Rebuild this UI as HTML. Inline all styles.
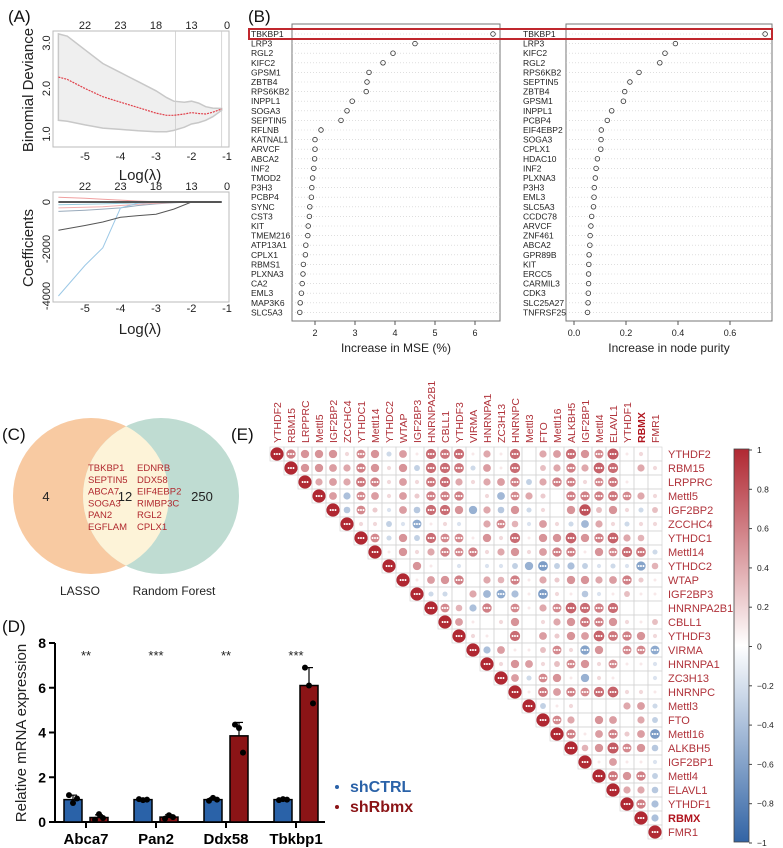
<!DOCTYPE html>
<html><head><meta charset="utf-8"><style>
html,body{margin:0;padding:0;background:#fff;}
svg{display:block;font-family:"Liberation Sans",sans-serif;}
</style></head><body>
<svg id="fig" width="783" height="848" viewBox="0 0 783 848" xmlns="http://www.w3.org/2000/svg">
<g id="pA"></g>
<g id="pB"></g>
<g id="pC"></g>
<g id="pD"></g>
<g id="pE"></g>
</svg>
<script>
// ---------- data ----------
const lassoLam = [-5.75,-5.5,-5,-4.5,-4,-3.5,-3,-2.7,-2.5,-2.2,-2,-1.8,-1.6,-1.4,-1.15];
const devMean = [2.25,2.2,2.0,1.82,1.7,1.58,1.46,1.41,1.41,1.44,1.47,1.45,1.44,1.48,1.55];
const devUpper = [3.2,3.15,2.85,2.55,2.35,2.15,1.95,1.8,1.72,1.7,1.72,1.68,1.6,1.57,1.56];
const devLower = [1.3,1.28,1.2,1.13,1.1,1.07,1.05,1.05,1.08,1.15,1.22,1.25,1.3,1.38,1.52];
const topCounts = ["22","23","18","13","0"];
const lamTicks = [-5,-4,-3,-2,-1];
const coefLam = [-5.75,-5,-4.5,-4,-3.5,-3,-2.5,-2,-1.5,-1.15];
const coefDark = [-1200,-1000,-850,-650,-580,-520,-300,0,0,0];
const coefBlue = [-4000,-2700,-1950,-250,-50,0,0,0,0,0];
const coefS1 = [-400,-350,-300,-250,-150,-80,-30,0,0,0];
const coefS2 = [-250,-220,-200,-150,-100,-50,-20,0,0,0];
const coefS3 = [200,160,120,80,40,10,0,0,0,0];
const coefS4 = [-120,-100,-80,-60,-40,-20,-5,0,0,0];

const mseGenes = ["TBKBP1","LRP3","RGL2","KIFC2","GPSM1","ZBTB4","RPS6KB2","INPPL1","SOGA3","SEPTIN5","RFLNB","KATNAL1","ARVCF","ABCA2","INF2","TMOD2","P3H3","PCBP4","SYNC","CST3","KIT","TMEM216","ATP13A1","CPLX1","RBMS1","PLXNA3","CA2","EML3","MAP3K6","SLC5A3"];
const mseVals = [6.45,4.5,3.95,3.7,3.35,3.3,3.28,2.93,2.8,2.65,2.15,2.0,2.0,1.99,1.97,1.94,1.92,1.91,1.87,1.86,1.83,1.82,1.77,1.76,1.71,1.70,1.68,1.66,1.63,1.62];
const npGenes = ["TBKBP1","LRP3","KIFC2","RGL2","RPS6KB2","SEPTIN5","ZBTB4","GPSM1","INPPL1","PCBP4","EIF4EBP2","SOGA3","CPLX1","HDAC10","INF2","PLXNA3","P3H3","EML3","SLC5A3","CCDC78","ARVCF","ZNF461","ABCA2","GPR89B","KIT","ERCC5","CARMIL3","CDK3","SLC25A27","TNFRSF25"];
const npVals = [0.735,0.39,0.35,0.33,0.25,0.215,0.195,0.19,0.145,0.128,0.105,0.104,0.103,0.09,0.085,0.082,0.078,0.077,0.075,0.068,0.065,0.062,0.061,0.058,0.057,0.056,0.056,0.055,0.054,0.052];
const mseTicks = [2,3,4,5,6];
const npTicks = [0.0,0.2,0.4,0.6];

const barGenes = ["Abca7","Pan2","Ddx58","Tbkbp1"];
const ctrlVals = [1.0,1.0,1.0,1.0];
const rbmxVals = [0.2,0.22,3.85,6.1];
const ctrlErr = [0.2,0.05,0.08,0.05];
const rbmxErr = [0.12,0.1,0.6,0.8];
const ctrlPts = [[1.2,0.85,1.05],[1.02,0.98,1.0],[0.95,1.08,1.0],[0.98,1.02,1.0]];
const rbmxPts = [[0.1,0.35,0.18],[0.15,0.3,0.22],[4.35,4.2,3.1],[6.9,6.1,5.3]];
const sigMarks = ["**","***","**","***"];
const barTicks = [0,2,4,6,8];

const corrLabels = ["YTHDF2","RBM15","LRPPRC","Mettl5","IGF2BP2","ZCCHC4","YTHDC1","Mettl14","YTHDC2","WTAP","IGF2BP3","HNRNPA2B1","CBLL1","YTHDF3","VIRMA","HNRNPA1","ZC3H13","HNRNPC","Mettl3","FTO","Mettl16","ALKBH5","IGF2BP1","Mettl4","ELAVL1","YTHDF1","RBMX","FMR1"];
const corrRows = [
[0.5,0.4,0.4,0.4,0.1,0.45,0.4,-0.15,0.35,0.05,0.6,0.55,0.6,0.05,0.3,0.05,0.6,0,0.3,0.35,0.6,0.4,0.45,0.7,0.05,0.1,0],
[0.4,0.4,0.35,0.3,0.5,0.4,0.1,0.4,-0.2,0.6,0.6,0.55,-0.15,0.35,0.05,0.6,0,0.2,0.3,0.5,0.3,0.65,0.6,0,0.3,0.1],
[0.3,0.35,0.3,0.55,0.5,0.1,0.35,0.1,0.55,0.6,0.3,0.1,0.3,0.35,0.5,-0.2,0.3,0.5,0.5,0.1,0.45,0.55,0.05,0,0],
[0.35,-0.3,0.45,0.35,0.1,0.35,0.15,0.5,0.5,0.5,0,0.1,-0.35,0.45,0.3,0.15,0,0.5,0.5,0.5,0.55,0.45,0.3,0.1],
[-0.25,0.45,0.15,-0.1,0.35,-0.25,0.6,0.6,0.4,-0.4,0.3,-0.25,0.4,-0.15,0.1,0,0.4,0.75,0.2,0.4,0.1,-0.15,0.2],
[0.1,0.1,-0.2,-0.1,-0.45,0.05,0.1,-0.1,0,0.3,0.45,0.25,-0.1,0.35,0.1,-0.15,-0.35,0.3,0.1,-0.15,0.1,0.1],
[0.45,-0.15,0.4,-0.2,0.6,0.45,0.45,0.05,0.4,0.1,0.6,0.05,0.4,0.4,0.65,0.4,0.5,0.65,0.3,0.25,0],
[0.05,0.4,0.1,0.3,0.5,0.45,0.5,0.1,0.3,0.4,0.1,0.35,0.5,0.5,0.05,0.4,0.45,0.6,0.55,-0.15],
[0,0.4,0.05,0,-0.1,0,-0.1,-0.1,-0.2,-0.4,-0.55,-0.2,-0.3,-0.2,-0.1,-0.15,-0.1,-0.5,0.25],
[0.05,0.35,0.4,0.5,0,0.3,0.25,0.5,0.05,0.3,0.15,0.4,0.4,0.3,0.35,0.5,0.15,0.05],
[-0.15,-0.15,0,0.3,-0.35,-0.45,-0.3,0.05,-0.55,0.1,0.05,-0.25,-0.1,0.05,0.2,0.05,0.05],
[0.45,0.25,-0.3,0.5,0,0.45,0.05,0.3,0.45,0.65,0.6,0.5,0.6,0,0,0],
[0.35,0.05,0,0.1,0.4,0,0.1,0.3,0.4,0.55,0.5,0.4,0.1,0.05,0.2],
[0.1,0.05,0,0.6,0,0.35,0.15,0.4,0.35,0.65,0.55,0.5,0.4,0.1],
[-0.3,0.35,0.05,0.05,0.2,0.45,0.1,-0.5,0.4,0,0.45,0.45,-0.45],
[0.1,0.4,0.35,0.1,0.2,0.45,0.4,0.1,0.45,0.05,0.05,-0.1],
[0.35,-0.15,0.45,0.4,0.05,-0.4,0.1,0.05,0,0,-0.1],
[0.05,0.55,0.35,0.5,0.45,0.6,0.65,0.1,0.1,0.05],
[-0.2,0.05,0.1,0,0,0,0.3,0.35,-0.15],
[0.45,0.3,0,0.4,0.35,0,0.3,-0.2],
[0.5,0.05,0.35,0.5,0.15,0.35,-0.55],
[0.25,0.4,0.7,0.45,0.4,-0.25],
[0.05,0.35,0.05,0.05,-0.1],
[0.55,0.4,0.5,-0.2],
[0.3,0.3,-0.25],
[0.5,-0.3],
[-0.3],
[]
];
const cbTicks = [1,0.8,0.6,0.4,0.2,0,-0.2,-0.4,-0.6,-0.8,-1];

// ---------- helpers ----------
const NS="http://www.w3.org/2000/svg";
function mk(parent,tag,attrs,text){const e=document.createElementNS(NS,tag);for(const k in attrs)e.setAttribute(k,attrs[k]);if(text!==undefined)e.textContent=text;parent.appendChild(e);return e;}
function lin(d0,d1,r0,r1){return v=>r0+(v-d0)*(r1-r0)/(d1-d0);}
function pathOf(xs,ys,fx,fy){return xs.map((x,i)=>(i?'L':'M')+fx(x).toFixed(1)+','+fy(ys[i]).toFixed(1)).join('');}
const pA=document.getElementById('pA'),pB=document.getElementById('pB'),pC=document.getElementById('pC'),pD=document.getElementById('pD'),pE=document.getElementById('pE');

[["(A)",8,22,pA],["(B)",248,22,pB],["(C)",2,440,pC],["(D)",2,632,pD],["(E)",231,440,pE]].forEach(([t,x,y,g])=>{
 const e=mk(g,'text',{x:x,y:y,'font-size':17,fill:'#111'},t);
 
 
});

// ---------- Panel A ----------
(function(){
 const fx=lin(-5,-1,85,227);
 const fy=lin(1,3,134,43);
 const box=mk(pA,'rect',{x:53,y:31,width:176,height:116,fill:'none',stroke:'#bbb'});
 
 
 let band=lassoLam.map((l,i)=>fx(l).toFixed(1)+','+fy(devUpper[i]).toFixed(1)).join(' ')+' '+lassoLam.slice().reverse().map((l,i)=>fx(l).toFixed(1)+','+fy(devLower[lassoLam.length-1-i]).toFixed(1)).join(' ');
 const b=mk(pA,'polygon',{points:band,fill:'#efefef',stroke:'#c8c8c8','stroke-width':1.5});
 
 
 [-2.45,-1.15].forEach(v=>{const l=mk(pA,'line',{x1:fx(v),x2:fx(v),y1:31,y2:147,stroke:'#ccc','stroke-width':0.8});
  
  });
 const m=mk(pA,'path',{d:pathOf(lassoLam,devMean,fx,fy),fill:'none',stroke:'#e0404a','stroke-width':1.2,'stroke-dasharray':'2,1'});
 
 
 lamTicks.forEach((t,i)=>{
  mk(pA,'text',{x:fx(t),y:160,'font-size':11,'text-anchor':'middle',fill:'#222'},String(t));
  mk(pA,'text',{x:fx(t),y:29,'font-size':11,'text-anchor':'middle',fill:'#222'},topCounts[i]);
  mk(pA,'text',{x:fx(t),y:312,'font-size':11,'text-anchor':'middle',fill:'#222'},String(t));
  mk(pA,'text',{x:fx(t),y:190,'font-size':11,'text-anchor':'middle',fill:'#222'},topCounts[i]);
 });
 [1,2,3].forEach(v=>mk(pA,'text',{x:0,y:0,'font-size':11,'text-anchor':'middle',fill:'#222',transform:`translate(50,${fy(v)}) rotate(-90)`},v.toFixed(1)));
 mk(pA,'text',{x:0,y:0,'font-size':15,'text-anchor':'middle',fill:'#222',transform:'translate(33,90) rotate(-90)'},'Binomial Deviance');
 mk(pA,'text',{x:140,y:180,'font-size':15,'text-anchor':'middle',fill:'#222'},'Log(λ)');
 const gy=lin(0,-4000,202,296);
 const box2=mk(pA,'rect',{x:53,y:192,width:176,height:110,fill:'none',stroke:'#bbb'});
 
 
 [[coefS3,'#f0a0a0'],[coefS1,'#9ab'],[coefS2,'#f3b0b0'],[coefS4,'#9cd'],[coefBlue,'#9cc8e6'],[coefDark,'#555']].forEach(([s,c])=>{
  const p=mk(pA,'path',{d:pathOf(coefLam,s,fx,gy),fill:'none',stroke:c,'stroke-width':1});
  
  
 });
 mk(pA,'line',{x1:fx(-5.75),x2:fx(-1.15),y1:gy(0),y2:gy(0),stroke:'#555','stroke-width':2});
 [[0,'0'],[-2000,'-2000'],[-4000,'-4000']].forEach(([v,t])=>mk(pA,'text',{x:0,y:0,'font-size':11,'text-anchor':'middle',fill:'#222',transform:`translate(50,${gy(v)}) rotate(-90)`},t));
 mk(pA,'text',{x:0,y:0,'font-size':15,'text-anchor':'middle',fill:'#222',transform:'translate(33,248) rotate(-90)'},'Coefficients');
 mk(pA,'text',{x:140,y:334,'font-size':15,'text-anchor':'middle',fill:'#222'},'Log(λ)');
})();

// ---------- Panel B ----------
(function(){
 function dot(x0,x1,genes,vals,fx,ticks,title,fmt,name){
  const top=24,bot=321,rowY=i=>34+i*9.6;
  const f=mk(pB,'rect',{x:x0,y:top,width:x1-x0,height:bot-top,fill:'none',stroke:'#777'});
  
  
  genes.forEach((g,i)=>{
   mk(pB,'line',{x1:x0,x2:x1,y1:rowY(i),y2:rowY(i),stroke:'#ccc','stroke-width':0.6,'stroke-dasharray':'1,2'});
   mk(pB,'text',{x:name==='mse'?251:523,y:rowY(i)+3,'font-size':8.5,fill:'#222'},g);
   const c=mk(pB,'circle',{cx:fx(vals[i]),cy:rowY(i),r:2.3,fill:'none',stroke:'#333','stroke-width':0.8});
   
   
  });
  ticks.forEach(t=>{mk(pB,'line',{x1:fx(t),x2:fx(t),y1:bot,y2:bot+4,stroke:'#555'});
   mk(pB,'text',{x:fx(t),y:336,'font-size':9,'text-anchor':'middle',fill:'#222'},fmt(t));});
  mk(pB,'text',{x:(x0+x1)/2,y:352,'font-size':12,'text-anchor':'middle',fill:'#222'},title);
 }
 dot(292,500,mseGenes,mseVals,lin(2,6,315,475),mseTicks,'Increase in MSE (%)',t=>String(t),'mse');
 dot(566,772,npGenes,npVals,lin(0,0.6,574,730),npTicks,'Increase in node purity',t=>t.toFixed(1),'purity');
 const r=mk(pB,'rect',{x:249,y:29,width:523,height:10,fill:'none',stroke:'#c0282e','stroke-width':2});
 
 
})();

// ---------- Panel C ----------
(function(){
 const l=mk(pC,'circle',{cx:91,cy:496,r:78,fill:'#f8caa2'});
 
 
 const r=mk(pC,'circle',{cx:161,cy:496,r:78,fill:'#bfdcd2'});
 
 
 const cp=mk(pC,'clipPath',{id:'cl'});
 mk(cp,'circle',{cx:91,cy:496,r:78});
 const ov=mk(pC,'circle',{cx:161,cy:496,r:78,fill:'#fdf3d8','clip-path':'url(#cl)'});
 
 
 mk(pC,'text',{x:46,y:501,'font-size':13,'text-anchor':'middle',fill:'#222'},'4');
 mk(pC,'text',{x:125,y:501,'font-size':13,'text-anchor':'middle',fill:'#222'},'12');
 mk(pC,'text',{x:202,y:501,'font-size':13,'text-anchor':'middle',fill:'#222'},'250');
 const lg=["TBKBP1","SEPTIN5","ABCA7","SOGA3","PAN2","EGFLAM"], rg=["EDNRB","DDX58","EIF4EBP2","RIMBP3C","RGL2","CPLX1"];
 lg.forEach((g,i)=>mk(pC,'text',{x:88,y:471+i*11.8,'font-size':9.5,fill:'#b0282e'},g));
 rg.forEach((g,i)=>mk(pC,'text',{x:137,y:471+i*11.8,'font-size':9.5,fill:'#b0282e'},g));
 mk(pC,'text',{x:80,y:595,'font-size':12,'text-anchor':'middle',fill:'#222'},'LASSO');
 mk(pC,'text',{x:174,y:595,'font-size':12,'text-anchor':'middle',fill:'#222'},'Random Forest');
})();

// ---------- Panel D ----------
(function(){
 const fy=lin(0,8,822,643);
 const fx=i=>86+i*70;
 mk(pD,'line',{x1:55,x2:55,y1:643,y2:823,stroke:'#000','stroke-width':2});
 mk(pD,'line',{x1:54,x2:325,y1:822,y2:822,stroke:'#000','stroke-width':2});
 barTicks.forEach(t=>{mk(pD,'line',{x1:49,x2:55,y1:fy(t),y2:fy(t),stroke:'#000','stroke-width':2});
  mk(pD,'text',{x:46,y:fy(t)+5,'font-size':14,'font-weight':'bold','text-anchor':'end',fill:'#000'},String(t));});
 mk(pD,'text',{x:0,y:0,'font-size':15,'text-anchor':'middle',fill:'#222',transform:'translate(26,733) rotate(-90)'},'Relative mRNA expression');
 barGenes.forEach((g,i)=>{
  const cx=fx(i);
  mk(pD,'line',{x1:cx,x2:cx,y1:822,y2:828,stroke:'#000','stroke-width':2});
  mk(pD,'text',{x:cx,y:844,'font-size':15,'font-weight':'bold','text-anchor':'middle',fill:'#000'},g);
  mk(pD,'text',{x:cx,y:660,'font-size':13,'text-anchor':'middle',fill:'#222'},sigMarks[i]);
  [[cx-13,ctrlVals[i],ctrlErr[i],ctrlPts[i],'#2a62a8','ctrl-bar'],[cx+13,rbmxVals[i],rbmxErr[i],rbmxPts[i],'#8b1416','rbmx-bar']].forEach(([bx,v,e,pts,col,nm])=>{
   const r=mk(pD,'rect',{x:bx-9,y:fy(v),width:18,height:822-fy(v),fill:col,stroke:'#000','stroke-width':1.5});
   
   
   mk(pD,'line',{x1:bx,x2:bx,y1:fy(v+e),y2:fy(v),stroke:'#000','stroke-width':1.2});
   mk(pD,'line',{x1:bx-4,x2:bx+4,y1:fy(v+e),y2:fy(v+e),stroke:'#000','stroke-width':1.2});
   pts.forEach((p,k)=>{const c=mk(pD,'circle',{cx:bx-4+k*4,cy:fy(p),r:3,fill:'#000'});
    
    });
  });
 });
 const l1=mk(pD,'circle',{cx:337,cy:787,r:2,fill:'#2a62a8'});
 
 
 mk(pD,'text',{x:350,y:792,'font-size':16,'font-weight':'bold',fill:'#2a62a8'},'shCTRL');
 const l2=mk(pD,'circle',{cx:337,cy:807,r:2,fill:'#8b1416'});
 
 
 mk(pD,'text',{x:350,y:812,'font-size':16,'font-weight':'bold',fill:'#8b1416'},'shRbmx');
})();

// ---------- Panel E ----------
(function(){
 const x0=270,y0=447,cs=14,n=corrLabels.length;
 function col(v){const a=Math.pow(Math.min(1,Math.abs(v)),0.75);const c=v>=0?[176,40,50]:[50,100,165];
  return `rgb(${Math.round(255+(c[0]-255)*a)},${Math.round(255+(c[1]-255)*a)},${Math.round(255+(c[2]-255)*a)})`;}
 corrLabels.forEach((lab,i)=>{
  const cx=x0+cs*i+cs/2;
  const t=mk(pE,'text',{x:0,y:0,'font-size':10.5,fill:lab==='RBMX'?'#b0141e':'#b0323a','font-weight':lab==='RBMX'?'bold':'normal',transform:`translate(${cx+4},443) rotate(-90)`},lab);
  
  
  const t2=mk(pE,'text',{x:668,y:y0+cs*i+cs/2+4,'font-size':11,fill:lab==='RBMX'?'#b0141e':'#b0323a','font-weight':lab==='RBMX'?'bold':'normal'},lab);
  
  
 });
 for(let i=0;i<n;i++){
  const vals=[1].concat(corrRows[i]);
  vals.forEach((v,k)=>{
   const j=i+k;
   const cx=x0+cs*j+cs/2, cy=y0+cs*i+cs/2;
   mk(pE,'rect',{x:x0+cs*j,y:y0+cs*i,width:cs,height:cs,fill:'none',stroke:'#d4d4d4','stroke-width':0.7});
   if(Math.abs(v)>0.01){
    const c=mk(pE,'circle',{cx:cx,cy:cy,r:(6.6*Math.sqrt(Math.abs(v))).toFixed(2),fill:col(v)});
    
    
    if(Math.abs(v)>=0.45){mk(pE,'text',{x:cx,y:cy+2.5,'font-size':7,'text-anchor':'middle',fill:'#fff'},'•••');}
   }
  });
 }
 const cbx=734,cbTop=449,cbBot=842;
 const grad=mk(pE,'linearGradient',{id:'cbg',x1:0,y1:0,x2:0,y2:1});
 [[0,'rgb(176,40,50)'],[0.5,'#ffffff'],[1,'rgb(50,100,165)']].forEach(([o,c])=>mk(grad,'stop',{offset:o,'stop-color':c}));
 const cb=mk(pE,'rect',{x:cbx,y:cbTop,width:15,height:cbBot-cbTop,fill:'url(#cbg)',stroke:'#444','stroke-width':0.8});
 
 
 const fy=lin(1,-1,450,843);
 cbTicks.forEach(t=>{mk(pE,'line',{x1:749,x2:752,y1:fy(t),y2:fy(t),stroke:'#444'});
  mk(pE,'text',{x:757,y:fy(t)+3,'font-size':8.5,fill:'#222'},t===0?'0':(t<0?'−'+Math.abs(t):String(t)));});
})();
</script>
</body></html>
